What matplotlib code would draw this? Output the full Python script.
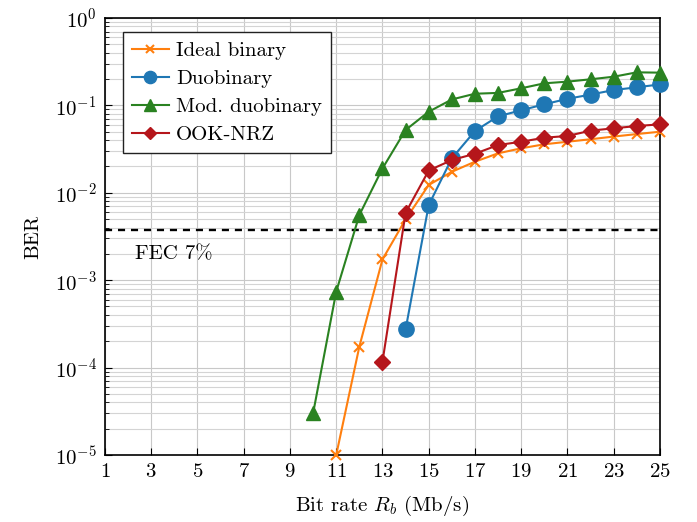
import matplotlib
matplotlib.use("Agg")
import matplotlib.pyplot as plt
import numpy as np
from matplotlib.ticker import LogLocator, NullFormatter

plt.rcParams['font.family'] = ['cmr10', 'DejaVu Serif']
plt.rcParams['mathtext.fontset'] = 'cm'
plt.rcParams['axes.formatter.use_mathtext'] = True
plt.rcParams['font.size'] = 15

# data
x_ideal = [11, 12, 13, 14, 15, 16, 17, 18, 19, 20, 21, 22, 23, 24, 25]
ber_ideal = [1.0e-5, 1.74e-4, 1.73e-3, 4.97e-3, 1.23e-2, 1.74e-2, 2.27e-2, 2.83e-2,
             3.23e-2, 3.59e-2, 3.84e-2, 4.1e-2, 4.4e-2, 4.7e-2, 5.0e-2]

x_duo = [14, 15, 16, 17, 18, 19, 20, 21, 22, 23, 24, 25]
ber_duo = [2.74e-4, 7.25e-3, 2.48e-2, 5.1e-2, 7.5e-2, 8.8e-2, 0.103, 0.119,
           0.133, 0.150, 0.161, 0.174]

x_mod = [10, 11, 12, 13, 14, 15, 16, 17, 18, 19, 20, 21, 22, 23, 24, 25]
ber_mod = [3.0e-5, 7.4e-4, 5.57e-3, 1.9e-2, 5.23e-2, 8.47e-2, 0.117, 0.136, 0.139,
           0.157, 0.179, 0.187, 0.199, 0.213, 0.239, 0.237]

x_ook = [13, 14, 15, 16, 17, 18, 19, 20, 21, 22, 23, 24, 25]
ber_ook = [1.17e-4, 5.9e-3, 1.8e-2, 2.37e-2, 2.8e-2, 3.52e-2, 3.84e-2, 4.27e-2,
           4.47e-2, 5.14e-2, 5.47e-2, 5.81e-2, 6.07e-2]

fec_level = 3.8e-3
xticks = list(range(1, 26, 2))

fig = plt.figure(figsize=(6.97, 5.22), dpi=100)
ax = fig.add_axes([0.1506, 0.1284, 0.7963, 0.8371])

ax.plot(x_ideal, ber_ideal, color='#ff7f0e', marker='x', markersize=7,
        markeredgewidth=1.5, lw=1.5, label='Ideal binary', zorder=3, clip_on=False)
ax.plot(x_duo, ber_duo, color='#1f77b4', marker='o', markersize=11,
        lw=1.5, label='Duobinary', zorder=3, clip_on=False)
ax.plot(x_mod, ber_mod, color='#2a8221', marker='^', markersize=10,
        lw=1.5, label='Mod. duobinary', zorder=3, clip_on=False)
ax.plot(x_ook, ber_ook, color='#b5161b', marker='D', markersize=8,
        lw=1.5, label='OOK-NRZ', zorder=3, clip_on=False)

ax.axhline(fec_level, color='black', ls=(0, (3, 2.5)), lw=1.7, zorder=2)
ax.text(2.3, 2.0e-3, 'FEC 7%', va='center', ha='left')

ax.set_yscale('log')
ax.set_xlim(1, 25)
ax.set_ylim(1e-5, 1)
ax.set_xticks(xticks)
ax.yaxis.set_major_locator(LogLocator(base=10, numticks=10))
ax.yaxis.set_minor_locator(LogLocator(base=10, subs=np.arange(2, 10), numticks=10))
ax.yaxis.set_minor_formatter(NullFormatter())

ax.grid(True, which='major', color='#c8c8c8', lw=0.8, zorder=0)
ax.grid(True, which='minor', axis='y', color='#d4d4d4', lw=0.8, zorder=0)
ax.tick_params(which='both', direction='in', top=False, right=False)
ax.tick_params(which='major', length=5, pad=6)
ax.tick_params(which='minor', length=3)
for s in ax.spines.values():
    s.set_linewidth(1.2)

ax.set_xlabel(r'Bit rate $R_b$ (Mb/s)', labelpad=9)
ax.set_ylabel('BER', labelpad=9)

leg = ax.legend(loc='upper left', bbox_to_anchor=(0.032, 0.968), fancybox=False,
                framealpha=1, edgecolor='#222222', handlelength=1.75,
                borderpad=0.45, labelspacing=0.45, handletextpad=0.35,
                borderaxespad=0, markerscale=0.8)
leg.get_frame().set_linewidth(1.0)

fig.savefig('out.png', dpi=100)
